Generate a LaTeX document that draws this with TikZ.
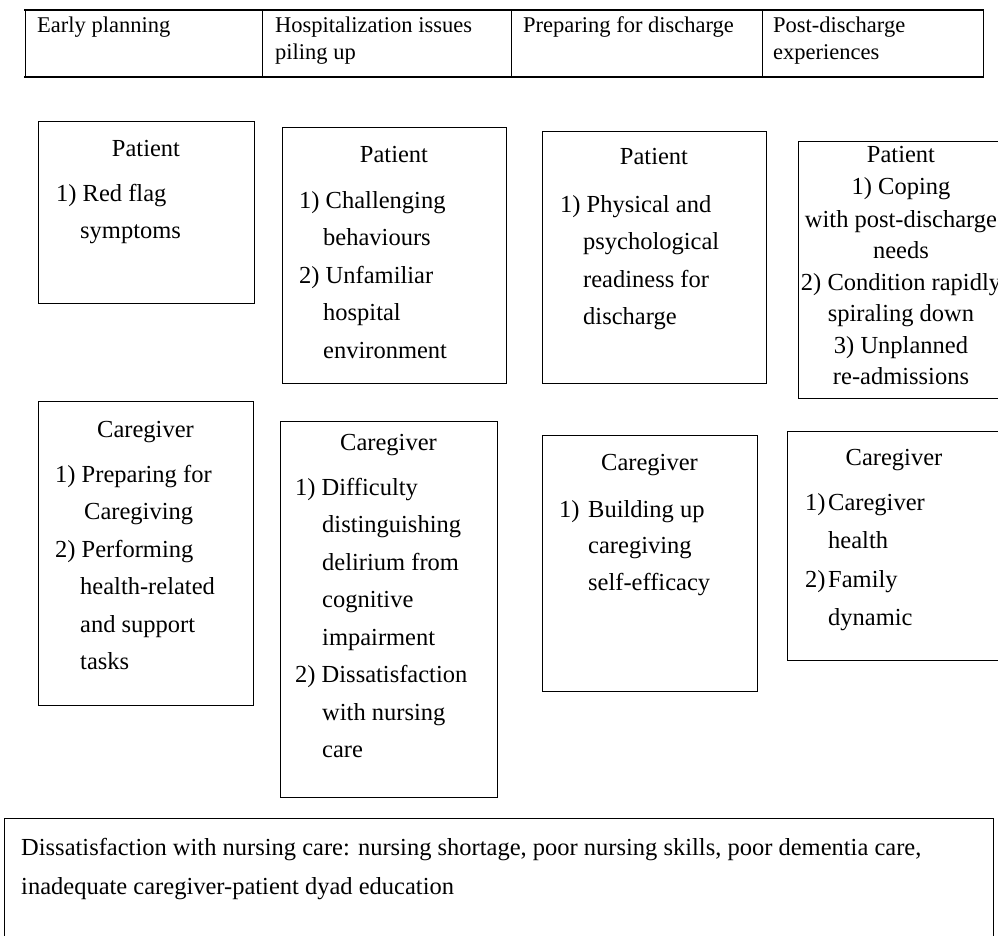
\documentclass[tikz,border=0pt]{standalone}
\usepackage{fontspec}
\setmainfont{Liberation Serif}
\begin{document}
\begin{tikzpicture}[x=1pt,y=-1pt,
  bx/.style={draw, line width=1.3pt, inner sep=0, anchor=north west},
  txt/.style={inner sep=0, anchor=base west, font=\fontsize{24.5}{30}\selectfont},
  ctxt/.style={inner sep=0, anchor=base, font=\fontsize{24.5}{30}\selectfont},
  htxt/.style={inner sep=0, anchor=base west, font=\fontsize{22.5}{27}\selectfont},
  rule/.style={line width=2.2pt},
  vrule/.style={line width=1pt}]
\useasboundingbox (0,0) rectangle (998,936);
\clip (0,0) rectangle (998,936);
% header table
\draw[rule] (24,10) -- (984,10);
\draw[rule] (24,77) -- (984,77);
\foreach \xx in {25,262,511,762,983} \draw[vrule] (\xx,10) -- (\xx,77);
\node[htxt] (h1) at (37,33) {Early planning};
\node[htxt] (h2a) at (275,33) {Hospitalization issues};
\node[htxt] (h2b) at (275,60) {piling up};
\node[htxt] (h3) at (523,33) {Preparing for discharge};
\node[htxt] (h4a) at (773,33) {Post-discharge};
\node[htxt] (h4b) at (773,60) {experiences};
% patient boxes
\node[bx, minimum width=216pt, minimum height=182pt] (p1) at (38,121) {};
\node[ctxt] (p1t) at (146,157) {Patient};
\node[txt] (p1a) at (56,202) {1) Red flag};
\node[txt] (p1b) at (80,238) {symptoms};

\node[bx, minimum width=224pt, minimum height=256pt] (p2) at (282,127) {};
\node[ctxt] (p2t) at (394,163) {Patient};
\node[txt] (p2a) at (299,208) {1) Challenging};
\node[txt] (p2b) at (323,245.5) {behaviours};
\node[txt] (p2c) at (299,283) {2) Unfamiliar};
\node[txt] (p2d) at (323,320.5) {hospital};
\node[txt] (p2e) at (323,358) {environment};

\node[bx, minimum width=224pt, minimum height=252pt] (p3) at (542,131) {};
\node[ctxt] (p3t) at (654,165) {Patient};
\node[txt] (p3a) at (560,212) {1) Physical and};
\node[txt] (p3b) at (583,249) {psychological};
\node[txt] (p3c) at (583,287) {readiness for};
\node[txt] (p3d) at (583,324) {discharge};

\node[bx, minimum width=224pt, minimum height=257pt] (p4) at (798,141) {};
\node[ctxt] (p4t) at (901,163) {Patient};
\node[ctxt] (p4a) at (901,195) {1) Coping};
\node[ctxt] (p4b) at (901,227) {with post-discharge};
\node[ctxt] (p4c) at (901,258) {needs};
\node[ctxt] (p4d) at (901,290) {2) Condition rapidly};
\node[ctxt] (p4e) at (901,321) {spiraling down};
\node[ctxt] (p4f) at (901,353) {3) Unplanned};
\node[ctxt] (p4g) at (901,384) {re-admissions};
% caregiver boxes
\node[bx, minimum width=215pt, minimum height=304pt] (c1) at (38,401) {};
\node[ctxt] (c1t) at (145.5,437) {Caregiver};
\node[txt] (c1a) at (55,482) {1) Preparing for};
\node[txt] (c1b) at (84,519) {Caregiving};
\node[txt] (c1c) at (55,557) {2) Performing};
\node[txt] (c1d) at (80,594) {health-related};
\node[txt] (c1e) at (80,632) {and support};
\node[txt] (c1f) at (80,669) {tasks};

\node[bx, minimum width=217pt, minimum height=376pt] (c2) at (280,421) {};
\node[ctxt] (c2t) at (388.5,450) {Caregiver};
\node[txt] (c2a) at (295,495) {1) Difficulty};
\node[txt] (c2b) at (322,532) {distinguishing};
\node[txt] (c2c) at (322,570) {delirium from};
\node[txt] (c2d) at (322,607) {cognitive};
\node[txt] (c2e) at (322,645) {impairment};
\node[txt] (c2f) at (295,682) {2) Dissatisfaction};
\node[txt] (c2g) at (322,720) {with nursing};
\node[txt] (c2h) at (322,757) {care};

\node[bx, minimum width=215pt, minimum height=256pt] (c3) at (542,435) {};
\node[ctxt] (c3t) at (649.5,470) {Caregiver};
\node[txt] (c3n) at (559,517) {1)};
\node[txt] (c3a) at (588,517) {Building up};
\node[txt] (c3b) at (588,553) {caregiving};
\node[txt] (c3c) at (588,590) {self-efficacy};

\node[bx, minimum width=214pt, minimum height=229pt] (c4) at (787,431) {};
\node[ctxt] (c4t) at (894,465) {Caregiver};
\node[txt] (c4n1) at (805,510) {1)};
\node[txt] (c4a) at (828,510) {Caregiver};
\node[txt] (c4b) at (828,548) {health};
\node[txt] (c4n2) at (805,587) {2)};
\node[txt] (c4c) at (828,587) {Family};
\node[txt] (c4d) at (828,625) {dynamic};
% bottom note
\node[bx, minimum width=989pt, minimum height=160pt] (nb) at (4,818) {};
\node[txt] (nb1) at (21,855) {Dissatisfaction with nursing care: nursing shortage, poor nursing skills, poor dementia care,};
\node[txt] (nb2) at (21,894) {inadequate caregiver-patient dyad education};
\end{tikzpicture}
\end{document}
